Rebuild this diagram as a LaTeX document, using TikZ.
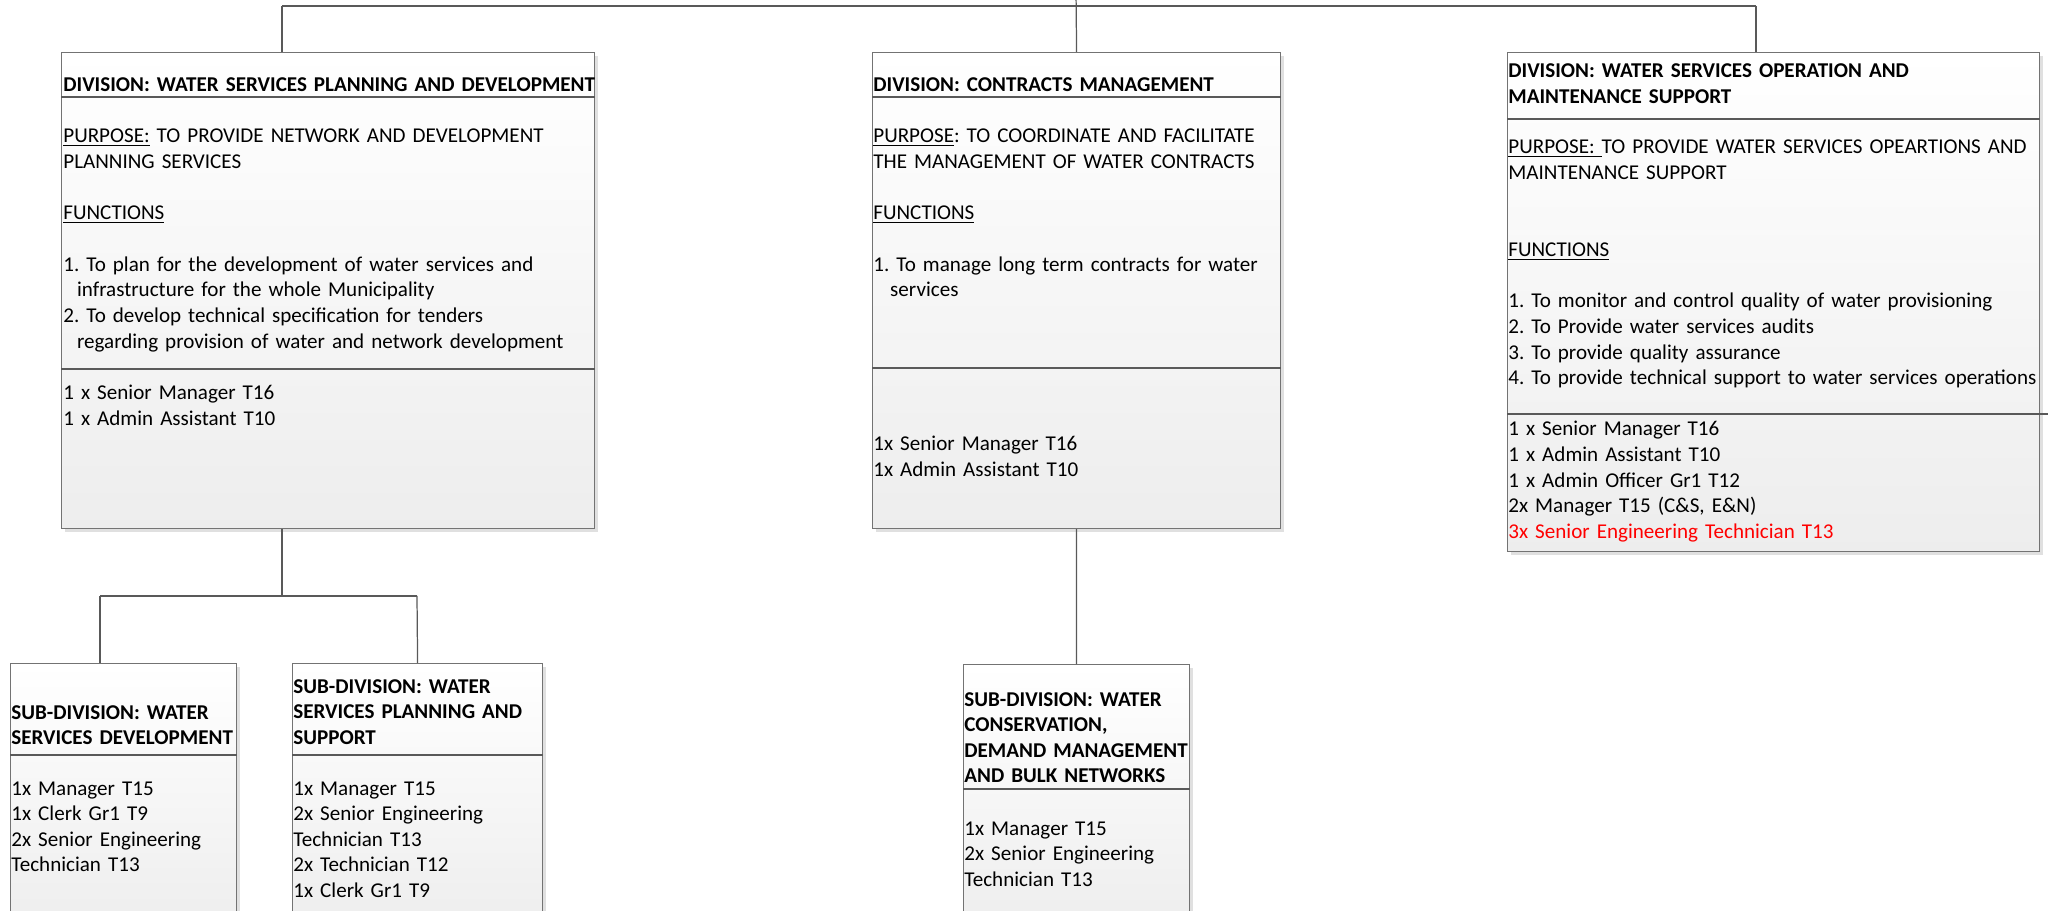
\documentclass[tikz,border=0pt]{standalone}
\usepackage{fontspec}
\setmainfont{Carlito}
\usetikzlibrary{shadows}

\newcommand{\orgfont}{\fontsize{12}{14.6}\selectfont\frenchspacing}

\begin{document}
\begin{tikzpicture}[x=0.02cm, y=-0.02cm,
    orgbox/.style={draw=black!55, line width=0.7pt, anchor=north west, inner sep=0pt,
        top color=white, bottom color=black!7,
        drop shadow={shadow xshift=0.06cm, shadow yshift=-0.06cm, fill=black!12, opacity=1}},
    sepline/.style={draw=black!65, line width=0.7pt},
    link/.style={draw=black!65, line width=0.7pt},
    orgtext/.style={anchor=base west, inner sep=0pt, align=left, text width=12cm, font=\orgfont},
    orgtitle/.style={orgtext, font=\orgfont\bfseries}]

    \useasboundingbox (0,0) rectangle (2048,911);
    \clip (0,0) rectangle (2048,911);

    % connectors
    \coordinate (root) at (1076,-10);
    \coordinate (busL) at (282,6);
    \coordinate (busR) at (1756,6);
    \coordinate (subL) at (100,596);
    \coordinate (subR) at (417,596);

    % divisions
    \node[orgbox, minimum width=10.66cm, minimum height=9.52cm] (plan) at (61,52) {};
    \node[orgbox, minimum width=8.16cm, minimum height=9.52cm] (con) at (872,52) {};
    \node[orgbox, minimum width=10.64cm, minimum height=9.98cm] (ops) at (1507,52) {};

    % sub-divisions
    \node[orgbox, minimum width=4.52cm, minimum height=5.4cm] (devt) at (10,663) {};
    \node[orgbox, minimum width=5cm, minimum height=5.4cm] (plsup) at (292,663) {};
    \node[orgbox, minimum width=4.52cm, minimum height=5.4cm] (wcdm) at (963,664) {};

    \draw[link] (busL) -- (busR);
    \draw[link] (root) -- (con.north);
    \draw[link] (busL) -- (busL |- plan.north);
    \draw[link] (busR) -- (busR |- ops.north);
    \draw[link] (plan.south -| busL) -- (busL |- subL);
    \draw[link] (subL) -- (subR);
    \draw[link] (subL) -- (subL |- devt.north);
    \draw[link] (subR) -- (plsup.north);
    \draw[link] (con.south) -- (wcdm.north);

    % separators
    \draw[sepline] (plan.west |- 0,97) -- (plan.east |- 0,97);
    \draw[sepline] (plan.west |- 0,369) -- (plan.east |- 0,369);
    \draw[sepline] (con.west |- 0,97) -- (con.east |- 0,97);
    \draw[sepline] (con.west |- 0,368) -- (con.east |- 0,368);
    \draw[sepline] (ops.west |- 0,119) -- (ops.east |- 0,119);
    \draw[sepline] (ops.west |- 0,414) -- (2048,414);
    \draw[sepline] (devt.west |- 0,755) -- (devt.east |- 0,755);
    \draw[sepline] (plsup.west |- 0,755) -- (plsup.east |- 0,755);
    \draw[sepline] (wcdm.west |- 0,789) -- (wcdm.east |- 0,789);

    % texts: planning and development
    \node[orgtitle] (plan-title) at (63,92) {DIVISION: WATER SERVICES PLANNING AND DEVELOPMENT};
    \node[orgtext] (plan-body) at (63,143) {\underline{PURPOSE:} TO PROVIDE NETWORK AND DEVELOPMENT\\
        PLANNING SERVICES\\~\\
        \underline{FUNCTIONS}\\~\\
        1. To plan for the development of water services and\\
        \hspace*{0.65em}infrastructure for the whole Municipality\\
        2. To develop technical specification for tenders\\
        \hspace*{0.65em}regarding provision of water and network development};
    \node[orgtext] (plan-staff) at (63,400) {1 x Senior Manager T16\\
        1 x Admin Assistant T10};

    % texts: contracts management
    \node[orgtitle] (con-title) at (873,92) {DIVISION: CONTRACTS MANAGEMENT};
    \node[orgtext] (con-body) at (873,143) {\underline{PURPOSE}: TO COORDINATE AND FACILITATE\\
        THE MANAGEMENT OF WATER CONTRACTS\\~\\
        \underline{FUNCTIONS}\\~\\
        1. To manage long term contracts for water\\
        \hspace*{0.8em}services};
    \node[orgtext] (con-staff) at (873,451) {1x Senior Manager T16\\
        1x Admin Assistant T10};

    % texts: operation and maintenance
    \node[orgtitle] (ops-title) at (1508,78) {DIVISION: WATER SERVICES OPERATION AND\\
        MAINTENANCE SUPPORT};
    \node[orgtext] (ops-body) at (1508,154) {\underline{PURPOSE:\ }TO PROVIDE WATER SERVICES OPEARTIONS AND\\
        MAINTENANCE SUPPORT\\~\\~\\
        \underline{FUNCTIONS}\\~\\
        1. To monitor and control quality of water provisioning\\
        2. To Provide water services audits\\
        3. To provide quality assurance\\
        4. To provide technical support to water services operations};
    \node[orgtext] (ops-staff) at (1508,436) {1 x Senior Manager T16\\
        1 x Admin Assistant T10\\
        1 x Admin Officer Gr1 T12\\
        2x Manager T15 (C\&S, E\&N)\\
        \textcolor{red}{3x Senior Engineering Technician T13}};

    % texts: sub-divisions
    \node[orgtitle] (devt-title) at (11,719) {SUB-DIVISION: WATER\\
        SERVICES DEVELOPMENT};
    \node[orgtext] (devt-staff) at (11,795) {1x Manager T15\\
        1x Clerk Gr1 T9\\
        2x Senior Engineering\\
        Technician T13};
    \node[orgtitle] (plsup-title) at (293,693) {SUB-DIVISION: WATER\\
        SERVICES PLANNING AND\\
        SUPPORT};
    \node[orgtext] (plsup-staff) at (293,795) {1x Manager T15\\
        2x Senior Engineering\\
        Technician T13\\
        2x Technician T12\\
        1x Clerk Gr1 T9};
    \node[orgtitle] (wcdm-title) at (964,706) {SUB-DIVISION: WATER\\
        CONSERVATION,\\
        DEMAND MANAGEMENT\\
        AND BULK NETWORKS};
    \node[orgtext] (wcdm-staff) at (964,835) {1x Manager T15\\
        2x Senior Engineering\\
        Technician T13};
\end{tikzpicture}
\end{document}
